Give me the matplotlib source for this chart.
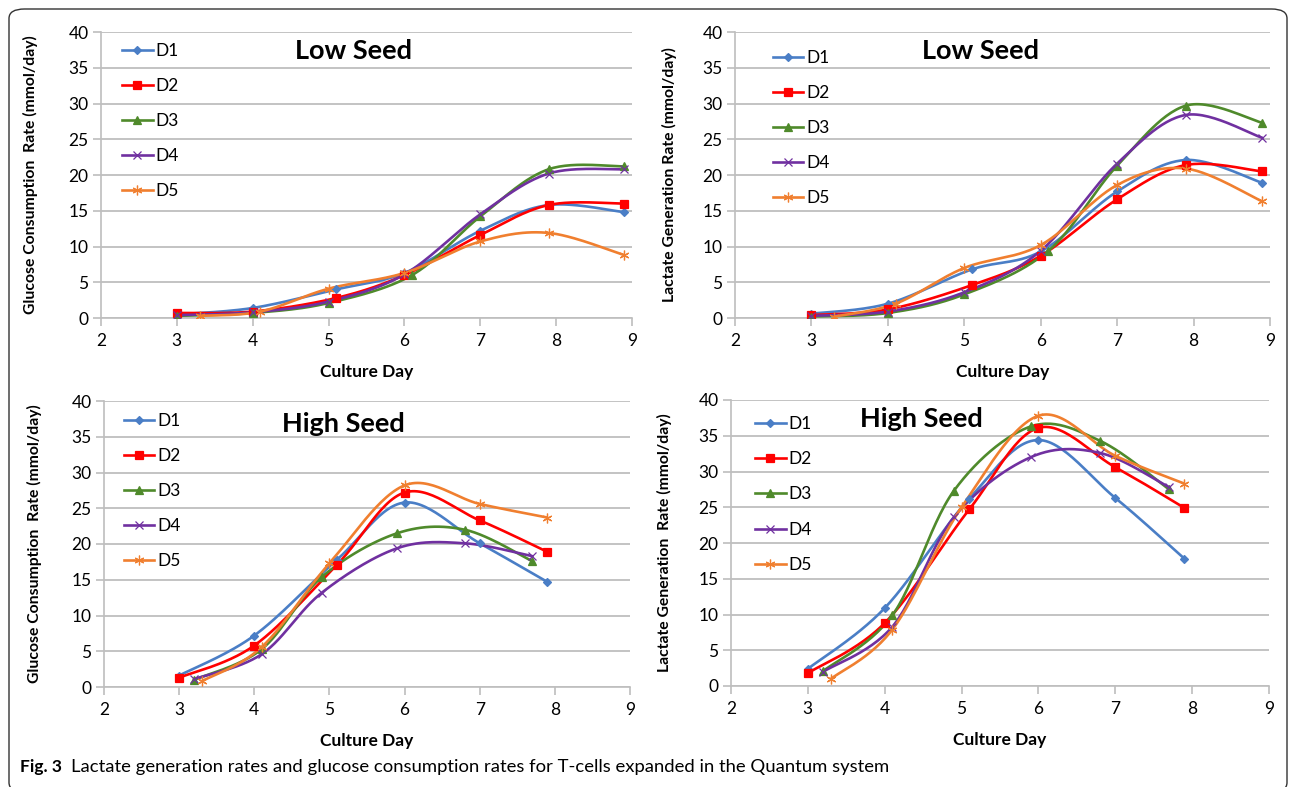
import numpy as np
import matplotlib
matplotlib.use("Agg")
import matplotlib.pyplot as plt
from matplotlib.lines import Line2D
from matplotlib.patches import FancyBboxPatch

# ---------------- data ----------------
series_names = ["D1", "D2", "D3", "D4", "D5"]

# Low seed - glucose consumption
ls_glc_x = [[3, 4, 5.1, 6, 7, 7.9, 8.9],
            [3, 4, 5.1, 6, 7, 7.9, 8.9],
            [3, 4, 5, 6.1, 7, 7.9, 8.9],
            [3, 4, 5, 6, 7, 7.9, 8.9],
            [3.3, 4.1, 5, 6, 7, 7.9, 8.9]]
ls_glc_y = [[0.5, 1.4, 4.0, 6.3, 12.2, 15.8, 14.8],
            [0.7, 0.9, 2.8, 6.0, 11.6, 15.8, 16.0],
            [0.3, 0.7, 2.1, 6.0, 14.2, 20.8, 21.2],
            [0.4, 0.8, 2.3, 6.1, 14.5, 20.2, 20.8],
            [0.3, 0.9, 4.1, 6.3, 10.7, 11.9, 8.8]]

# Low seed - lactate generation
ls_lac_x = ls_glc_x
ls_lac_y = [[0.6, 2.0, 6.8, 9.3, 17.7, 22.1, 18.9],
            [0.4, 1.2, 4.6, 8.7, 16.6, 21.4, 20.5],
            [0.2, 0.7, 3.3, 9.4, 21.3, 29.7, 27.3],
            [0.3, 0.9, 3.6, 9.4, 21.6, 28.4, 25.2],
            [0.2, 2.0, 7.0, 10.2, 18.6, 20.9, 16.3]]

# High seed - glucose consumption
hs_glc_x = [[3, 4, 5.1, 6, 7, 7.9],
            [3, 4, 5.1, 6, 7, 7.9],
            [3.2, 4.1, 4.9, 5.9, 6.8, 7.7],
            [3.2, 4.1, 4.9, 5.9, 6.8, 7.7],
            [3.3, 4.1, 5, 6, 7, 7.9]]
hs_glc_y = [[1.6, 7.2, 17.8, 25.8, 20.1, 14.7],
            [1.3, 5.8, 17.1, 27.2, 23.3, 18.9],
            [1.0, 5.3, 15.4, 21.5, 22.0, 17.6],
            [1.1, 4.6, 13.2, 19.4, 20.1, 18.3],
            [0.8, 5.6, 17.3, 28.2, 25.6, 23.7]]

# High seed - lactate generation
hs_lac_x = hs_glc_x
hs_lac_y = [[2.4, 10.9, 26.2, 34.4, 26.3, 17.8],
            [1.8, 8.8, 24.7, 36.1, 30.6, 24.9],
            [2.1, 9.9, 27.3, 36.3, 34.3, 27.5],
            [2.0, 8.3, 23.6, 32.0, 32.6, 27.8],
            [1.0, 7.9, 25.0, 37.8, 32.2, 28.3]]

x_ticks = [2, 3, 4, 5, 6, 7, 8, 9]
y_ticks = [0, 5, 10, 15, 20, 25, 30, 35, 40]

# ---------------- style ----------------
colors = ["#4A7EC6", "#FF0000", "#4F8A2B", "#7030A0", "#F07F2F"]
markers = ["D", "s", "^", "x", (6, 2, 0)]
msizes = [4.0, 5.2, 5.5, 5.5, 7]
FONT = "Lato"
GRID = "#BEBEBE"

W, H = 1295, 787
fig = plt.figure(figsize=(W / 100, H / 100), dpi=100)

def smooth(xs, ys, n=30):
    x = np.asarray(xs, float)
    y = np.asarray(ys, float)
    P = np.column_stack([x, y])
    Pe = np.vstack([P[0], P, P[-1]])
    out = []
    t = np.linspace(0, 1, n)[:, None]
    for i in range(len(P) - 1):
        p0, p3 = Pe[i + 1], Pe[i + 2]
        c1 = p0 + (Pe[i + 2] - Pe[i]) / 6.0
        c2 = p3 - (Pe[i + 3] - Pe[i + 1]) / 6.0
        seg = ((1 - t) ** 3) * p0 + 3 * ((1 - t) ** 2) * t * c1 + 3 * (1 - t) * t ** 2 * c2 + t ** 3 * p3
        out.append(seg if i == 0 else seg[1:])
    out = np.vstack(out)
    return out[:, 0], out[:, 1]

panels = [
    dict(px=(101, 632, 32, 318), xs=ls_glc_x, ys=ls_glc_y, title="Low Seed",
         ylabel="Glucose Consumption  Rate (mmol/day)", tpos=(0.475, 0.935),
         lpos=(0.040, 0.962), ylx=-0.118),
    dict(px=(735, 1270, 32, 318), xs=ls_lac_x, ys=ls_lac_y, title="Low Seed",
         ylabel="Lactate Generation Rate (mmol/day)", tpos=(0.458, 0.935),
         lpos=(0.071, 0.938), ylx=-0.108),
    dict(px=(104, 630, 401, 687), xs=hs_glc_x, ys=hs_glc_y, title="High Seed",
         ylabel="Glucose Consumption  Rate (mmol/day)", tpos=(0.455, 0.921),
         lpos=(0.038, 0.958), ylx=-0.118),
    dict(px=(731, 1269, 400, 686), xs=hs_lac_x, ys=hs_lac_y, title="High Seed",
         ylabel="Lactate Generation  Rate (mmol/day)", tpos=(0.353, 0.935),
         lpos=(0.045, 0.943), ylx=-0.110),
]

for p in panels:
    l, r, t, b = p["px"]
    ax = fig.add_axes([l / W, 1 - b / H, (r - l) / W, (b - t) / H])
    ax.set_xlim(2, 9)
    ax.set_ylim(0, 40)
    ax.set_xticks(x_ticks)
    ax.set_yticks(y_ticks)
    for s in ["top", "right"]:
        ax.spines[s].set_visible(False)
    for s in ["bottom", "left"]:
        ax.spines[s].set_color(GRID)
        ax.spines[s].set_linewidth(1.2)
    ax.yaxis.grid(True, color=GRID, linewidth=1.3)
    ax.set_axisbelow(True)
    ax.tick_params(axis="y", length=6, width=1.2, color=GRID, pad=3,
                   labelsize=12.5, labelfontfamily=FONT)
    ax.tick_params(axis="x", length=6, width=1.2, color=GRID, pad=5,
                   labelsize=12.5, labelfontfamily=FONT)
    handles = []
    for i in range(5):
        sx, sy = smooth(p["xs"][i], p["ys"][i])
        ax.plot(sx, sy, color=colors[i], lw=1.9, zorder=3, solid_capstyle="round")
        ax.plot(p["xs"][i], p["ys"][i], linestyle="none", marker=markers[i],
                ms=msizes[i], color=colors[i], mfc=colors[i], mew=0.9, zorder=4)
        handles.append(Line2D([], [], color=colors[i], lw=1.9, marker=markers[i],
                              ms=msizes[i], mew=0.9))
    ax.legend(handles, series_names, loc="upper left", bbox_to_anchor=p["lpos"],
              frameon=False, handlelength=1.75, handletextpad=0.15,
              labelspacing=1.1, borderpad=0, borderaxespad=0,
              prop=dict(family=FONT, size=12.5))
    ax.text(p["tpos"][0], p["tpos"][1], p["title"], transform=ax.transAxes,
            ha="center", va="center", fontsize=19.5, fontweight="bold", family=FONT)
    ax.set_ylabel(p["ylabel"], fontsize=11.3, fontweight="bold", family=FONT)
    ax.yaxis.set_label_coords(p["ylx"], 0.5)
    ax.set_xlabel("Culture Day", fontsize=12.5, fontweight="bold", family=FONT)
    ax.xaxis.set_label_coords(0.5, -0.160)

# frame
frame = FancyBboxPatch((9 / W, 1 - 792 / H), (1287 - 9) / W, (792 - 9) / H,
                       boxstyle="round,pad=0,rounding_size=0.012",
                       transform=fig.transFigure, fill=False, ec="#333333",
                       lw=1.0, clip_on=False)
fig.patches.append(frame)

fig.text(20 / W, 1 - 767 / H, "Fig. 3", fontsize=12.5, fontweight="bold",
         family=FONT, va="center", ha="left")
fig.text(71 / W, 1 - 767 / H,
         "Lactate generation rates and glucose consumption rates for T-cells expanded in the Quantum system",
         fontsize=13.3, family=FONT, va="center", ha="left")

fig.savefig("out.png", dpi=100)
